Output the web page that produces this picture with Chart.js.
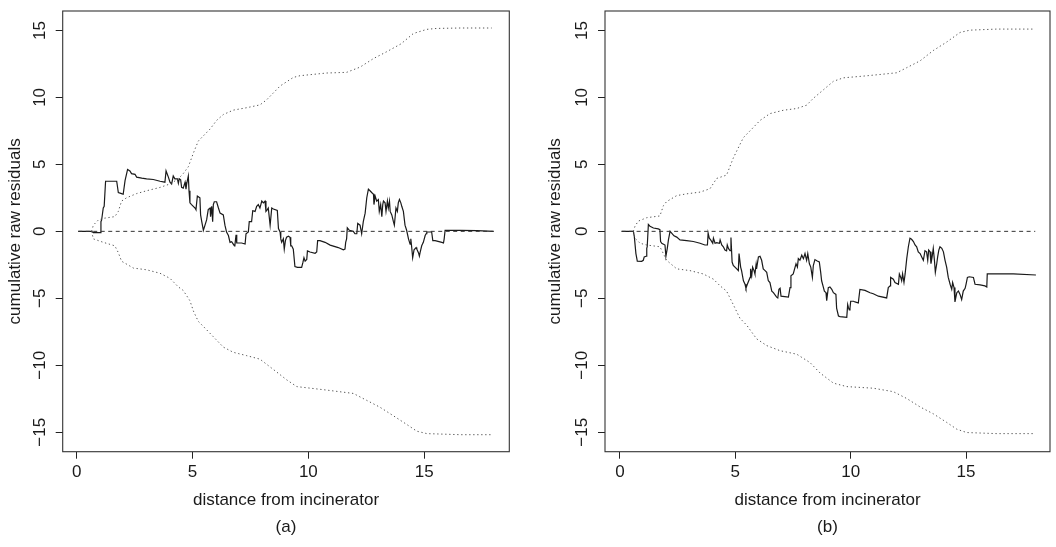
<!DOCTYPE html>
<html>
<head>
<meta charset="utf-8">
<script src="https://cdn.jsdelivr.net/npm/chart.js@4.4.1/dist/chart.umd.min.js"></script>
<style>
  body { margin: 0; background: #fff; }
  canvas { position: absolute; top: 0; }
  #panelA { left: 0; }
  #panelB { left: 528px; }
</style>
</head>
<body>
<canvas id="panelA" width="528" height="547"></canvas>
<canvas id="panelB" width="528" height="547"></canvas>
<script>
const xTicks = [0, 5, 10, 15];
const yTicks = [-15, -10, -5, 0, 5, 10, 15];
const zeroDist = [0.07, 18.0];
const zeroLevel = [0, 0];

// panel (a): observed cumulative residuals
const aDist = [
  0.07,0.65,0.72,1.01,1.05,1.08,1.15,1.19,1.25,1.73,
  1.80,1.94,2.01,2.09,2.20,2.30,2.37,2.52,2.59,2.81,
  3.02,3.31,3.60,3.81,3.86,3.96,4.03,4.10,4.17,4.24,
  4.35,4.39,4.43,4.49,4.53,4.60,4.68,4.72,4.75,4.82,
  4.85,4.89,4.96,5.11,5.15,5.21,5.32,5.35,5.40,5.47,
  5.54,5.61,5.68,5.76,5.78,5.83,5.87,5.90,5.94,6.04,
  6.12,6.19,6.33,6.40,6.47,6.55,6.62,6.69,6.76,6.81,
  6.83,6.88,6.91,7.12,7.27,7.31,7.41,7.45,7.55,7.60,
  7.70,7.77,7.84,7.91,7.99,8.06,8.13,8.17,8.23,8.27,
  8.35,8.42,8.49,8.66,8.71,8.78,8.81,8.85,8.92,8.96,
  9.01,9.06,9.14,9.21,9.24,9.28,9.35,9.42,9.53,9.71,
  9.76,9.81,9.86,9.93,9.96,10.07,10.29,10.36,10.40,10.50,
  10.72,10.94,11.29,11.51,11.58,11.61,11.65,11.68,11.77,11.94,
  12.01,12.09,12.13,12.23,12.30,12.37,12.45,12.52,12.59,12.66,
  12.73,12.81,12.83,12.88,12.95,13.02,13.06,13.12,13.17,13.21,
  13.24,13.31,13.35,13.41,13.45,13.50,13.53,13.60,13.67,13.71,
  13.78,13.84,13.88,13.93,13.99,14.03,14.10,14.17,14.24,14.32,
  14.39,14.42,14.46,14.50,14.56,14.65,14.68,14.75,14.79,14.82,
  14.89,14.96,15.04,15.08,15.11,15.32,15.37,15.47,15.76,15.83,
  15.86,15.90,16.55,17.27,17.99
];
const aResid = [
  0,0,-0.1,-0.1,0.72,0.85,1.74,1.87,3.74,3.74,
  2.9,2.82,2.77,3.79,4.62,4.51,4.31,4.26,4.05,3.97,
  3.92,3.87,3.74,3.67,4.51,4.05,3.67,3.54,4.13,3.92,
  3.92,3.59,3.92,3.85,3.28,3.23,3.67,3.15,3.54,4.13,
  3.03,2.13,2.0,1.74,1.62,2.64,2.51,1.23,0.72,0.08,
  0.46,0.85,1.62,1.74,1.10,1.87,0.72,2.0,2.21,2.21,
  1.74,1.36,1.23,0.46,-0.05,-0.31,-0.82,-0.77,-0.95,-1.08,
  -1.03,-0.26,-0.87,-0.87,-0.95,-0.18,-0.05,0.72,0.72,1.54,
  1.49,1.87,2.0,1.74,2.26,2.13,2.26,1.49,1.62,1.74,
  0.46,1.74,1.67,1.56,0.21,-0.05,-0.56,-0.82,-0.56,-1.33,
  -0.69,-0.44,-0.36,-0.44,-1.08,-1.08,-1.33,-2.62,-2.69,-2.69,
  -2.36,-1.97,-2.23,-2.10,-1.46,-1.54,-1.64,-1.54,-0.69,-0.69,
  -0.82,-1.03,-1.21,-1.38,-1.33,-0.82,-0.56,0.26,0.08,0,
  -0.18,-0.18,0.59,0.46,-0.18,0.72,1.36,2.51,3.15,3.03,
  2.90,2.77,2.0,2.64,2.26,2.38,1.49,2.0,1.10,2.0,
  2.26,2.13,1.49,2.26,1.74,2.26,1.49,1.23,0.72,0.46,
  1.74,1.49,2.13,2.38,2.13,1.87,1.49,0.46,0.08,-0.56,
  -0.95,-0.56,-1.21,-1.97,-1.38,-1.21,-1.33,-1.59,-1.85,-1.59,
  -1.08,-0.82,-0.31,-0.18,-0.05,-0.05,-0.69,-0.69,-0.82,-0.87,
  -0.56,0.08,0.08,0.05,0
];
// panel (a): simulation envelope
const aUpDist = [0.65,0.72,0.94,1.15,1.65,1.80,1.94,2.16,2.59,3.02,3.60,4.03,4.39,4.60,4.82,5.04,5.25,5.47,5.76,6.04,
  6.33,6.76,7.34,7.91,8.20,8.78,9.35,9.64,10.79,11.65,12.23,12.81,13.38,14.0,14.53,15.11,15.54,16.55,17.91];
const aUpper = [0,0.46,0.85,0.97,1.10,1.49,2.26,2.51,2.82,3.03,3.28,3.54,3.92,4.31,4.82,5.85,6.74,7.13,7.64,8.28,
  8.72,9.05,9.23,9.44,9.82,10.85,11.49,11.62,11.82,11.87,12.26,12.90,13.41,14.0,14.77,15.08,15.15,15.18,15.18];
const aLowDist = [0.65,0.72,1.15,1.65,1.80,1.94,2.45,3.02,3.60,4.03,4.39,4.60,4.89,5.04,5.25,5.47,5.90,6.33,6.76,7.34,
  7.91,8.49,9.06,9.50,10.79,11.94,12.52,13.09,13.67,14.24,14.68,15.11,16.55,17.91];
const aLower = [0,-0.56,-0.82,-1.08,-1.59,-2.23,-2.74,-2.87,-3.13,-3.51,-4.15,-4.41,-5.18,-5.95,-6.72,-7.10,-7.87,-8.64,-9.03,-9.28,
  -9.54,-10.31,-11.08,-11.59,-11.85,-12.10,-12.62,-13.13,-13.77,-14.41,-14.92,-15.10,-15.18,-15.18];

// panel (b): observed cumulative residuals
const bDist = [
  0.07,0.58,0.62,0.69,0.75,0.94,1.01,1.05,1.13,1.16,
  1.18,1.23,1.30,1.45,1.66,1.73,1.76,1.81,1.95,1.99,
  2.05,2.10,2.17,2.24,2.34,2.46,2.60,2.89,3.18,3.47,
  3.68,3.79,3.82,3.87,3.93,4.02,4.05,4.12,4.19,4.31,
  4.34,4.41,4.48,4.55,4.62,4.65,4.70,4.77,4.81,4.86,
  4.91,5.06,5.13,5.16,5.20,5.23,5.27,5.35,5.42,5.46,
  5.52,5.64,5.66,5.71,5.75,5.81,5.85,5.90,5.92,6.00,
  6.07,6.14,6.21,6.29,6.36,6.43,6.50,6.58,6.65,6.79,
  6.84,6.89,6.94,6.98,7.30,7.37,7.41,7.51,7.59,7.63,
  7.69,7.73,7.80,7.88,7.95,8.02,8.09,8.14,8.21,8.27,
  8.34,8.38,8.45,8.55,8.64,8.70,8.74,8.82,8.86,8.93,
  8.96,9.03,9.10,9.18,9.25,9.32,9.36,9.39,9.47,9.54,
  9.83,9.87,9.90,9.94,9.97,10.00,10.12,10.19,10.33,10.40,
  10.62,10.84,10.98,11.20,11.56,11.63,11.71,11.73,11.85,11.92,
  12.07,12.11,12.17,12.21,12.25,12.31,12.36,12.43,12.50,12.57,
  12.64,12.72,12.79,12.86,12.93,13.01,13.08,13.15,13.22,13.29,
  13.34,13.38,13.44,13.48,13.53,13.58,13.63,13.67,13.73,13.77,
  13.82,13.87,13.95,14.02,14.09,14.16,14.23,14.31,14.38,14.42,
  14.48,14.52,14.60,14.67,14.74,14.81,14.88,14.96,15.00,15.06,
  15.14,15.32,15.39,15.61,15.82,15.90,15.92,17.05,18.03
];
const bResid = [
  0,0,-0.38,-1.66,-2.22,-2.24,-2.16,-1.91,-1.86,-1.27,
  -1.15,0.51,0.38,0.25,0.18,0.13,-0.76,-0.89,-1.02,-1.86,
  -1.27,-0.64,0,-0.13,-0.33,-0.43,-0.64,-0.69,-0.76,-0.89,
  -1.02,-1.02,-0.13,-0.51,-0.64,-0.89,-0.51,-0.89,-0.84,-0.89,
  -0.64,-1.02,-1.15,-1.40,-1.45,-1.02,-1.27,-1.45,-0.46,-2.29,
  -2.55,-2.80,-2.93,-1.66,-1.66,-2.67,-2.93,-3.69,-3.95,-4.25,
  -3.95,-3.44,-2.80,-3.31,-2.67,-2.93,-3.18,-2.47,-2.80,-1.91,
  -1.86,-2.16,-2.80,-2.93,-3.06,-3.69,-3.82,-4.46,-4.58,-4.91,
  -4.97,-4.33,-4.25,-4.84,-4.91,-4.20,-3.31,-3.18,-2.67,-2.42,
  -2.67,-2.04,-2.16,-1.78,-2.04,-1.66,-2.16,-1.66,-2.42,-2.67,
  -3.44,-2.55,-2.11,-2.22,-2.29,-3.06,-3.69,-4.20,-4.46,-4.58,
  -5.17,-4.20,-4.15,-4.33,-4.58,-4.66,-4.71,-5.73,-6.32,-6.37,
  -6.42,-5.47,-5.68,-5.86,-5.73,-5.22,-5.22,-5.27,-5.35,-4.33,
  -4.41,-4.58,-4.66,-4.84,-4.97,-4.20,-4.07,-3.44,-3.57,-3.82,
  -3.95,-3.18,-3.44,-3.69,-3.18,-3.82,-3.18,-2.04,-1.15,-0.51,
  -0.59,-0.76,-1.02,-1.15,-1.53,-1.66,-1.91,-2.16,-1.45,-1.53,
  -2.16,-1.40,-1.53,-2.42,-1.91,-1.27,-2.16,-3.06,-2.42,-1.91,
  -1.40,-1.15,-1.27,-1.53,-2.16,-2.67,-3.44,-3.95,-4.33,-3.82,
  -4.20,-5.27,-4.58,-4.46,-4.71,-5.09,-4.46,-4.25,-3.95,-3.44,
  -3.39,-3.44,-3.95,-4.00,-4.07,-4.15,-3.18,-3.18,-3.26
];
// panel (b): simulation envelope
const bUpDist = [0.58,0.65,0.79,1.16,1.73,1.88,2.02,2.46,2.89,3.47,3.90,4.19,4.62,4.91,5.20,5.35,5.64,6.07,6.50,7.08,
  7.66,8.09,8.38,8.82,9.25,9.68,10.55,11.27,12.0,12.43,13.01,13.58,14.16,14.74,15.17,16.33,17.99];
const bUpper = [0,0.38,0.76,1.02,1.15,1.91,2.22,2.67,2.80,2.93,3.18,3.95,4.20,5.47,6.49,7.00,7.51,8.28,8.79,9.04,
  9.17,9.42,9.93,10.57,11.20,11.46,11.59,11.71,11.84,12.22,12.73,13.50,14.13,14.85,15.02,15.10,15.10];
const bLowDist = [0.58,0.65,0.87,1.16,1.73,1.88,2.02,2.46,3.03,3.61,4.05,4.34,4.62,4.91,5.20,5.49,5.92,6.36,6.94,7.66,
  8.24,8.67,9.25,9.83,10.98,11.85,12.43,13.01,13.58,14.16,14.60,15.03,16.33,17.99];
const bLower = [0,-0.51,-0.89,-1.02,-1.15,-1.66,-2.16,-2.80,-2.93,-3.18,-3.57,-4.07,-4.46,-5.47,-6.49,-7.00,-8.02,-8.53,-8.91,-9.17,
  -9.80,-10.57,-11.33,-11.59,-11.71,-11.97,-12.48,-13.11,-13.62,-14.26,-14.77,-15.02,-15.10,-15.10];

Chart.defaults.font.family = '"Liberation Sans", Arial, Helvetica, sans-serif';
Chart.defaults.font.size = 17;
Chart.defaults.color = '#1a1a1a';

const pts = (xs, ys) => xs.map((x, i) => ({ x: x, y: ys[i] }));
const fmt = v => String(v).replace('-', '\u2212');

const boxPlugin = {
  id: 'box',
  afterDatasetsDraw(chart) {
    const a = chart.chartArea;
    const c = chart.ctx;
    c.save();
    c.strokeStyle = '#333';
    c.lineWidth = 1.1;
    c.strokeRect(a.left, a.top, a.right - a.left, a.bottom - a.top);
    c.restore();
  }
};

function makePanel(id, p) {
  const line = (data, color, dash, width) => ({
    data: data, showLine: true, pointRadius: 0, borderColor: color,
    borderWidth: width, borderDash: dash, tension: 0, fill: false
  });
  new Chart(document.getElementById(id), {
    type: 'scatter',
    data: {
      datasets: [
        line(pts(zeroDist, zeroLevel), '#333', [4, 3.5], 1),
        line(pts(p.upDist, p.upper), '#555', [1.3, 2.7], 1),
        line(pts(p.lowDist, p.lower), '#555', [1.3, 2.7], 1),
        line(pts(p.dist, p.resid), '#1a1a1a', [], 1.2)
      ]
    },
    options: {
      responsive: false,
      animation: false,
      layout: { padding: { left: p.padLeft, right: p.padRight, top: p.padTop, bottom: 0 } },
      plugins: { legend: { display: false }, tooltip: { enabled: false } },
      scales: {
        x: {
          type: 'linear', min: p.xMin, max: p.xMax,
          afterBuildTicks: s => { s.ticks = xTicks.map(v => ({ value: v })); },
          afterFit: s => { s.height = 95.3; },
          grid: { drawOnChartArea: false, drawTicks: true, tickLength: 7, color: '#222' },
          border: { display: false },
          ticks: { padding: 3.8, maxRotation: 0, callback: fmt },
          title: {
            display: true, text: ['distance from incinerator', p.tag],
            font: { size: 17, lineHeight: '27px' }, padding: { top: 0, bottom: 6.5 }
          }
        },
        y: {
          type: 'linear', min: -16.45, max: 16.45,
          afterBuildTicks: s => { s.ticks = yTicks.map(v => ({ value: v })); },
          afterFit: s => { s.width = p.yWidth; },
          grid: { drawOnChartArea: false, drawTicks: true, tickLength: 7, color: '#222' },
          border: { display: false },
          ticks: { padding: 0.8, minRotation: 90, maxRotation: 90, crossAlign: 'center', callback: fmt },
          title: {
            display: true, text: 'cumulative raw residuals',
            font: { size: 17 }, padding: { top: 4.8, bottom: 0 }
          }
        }
      }
    },
    plugins: [boxPlugin]
  });
}

makePanel('panelA', {
  dist: aDist, resid: aResid, upDist: aUpDist, upper: aUpper, lowDist: aLowDist, lower: aLower,
  xMin: -0.6, xMax: 18.67, padLeft: 0, yWidth: 62.7, padRight: 18.7, padTop: 6, tag: '(a)'
});
makePanel('panelB', {
  dist: bDist, resid: bResid, upDist: bUpDist, upper: bUpper, lowDist: bLowDist, lower: bLower,
  xMin: -0.65, xMax: 18.64, padLeft: 12, yWidth: 65, padRight: 6, padTop: 5, tag: '(b)'
});
</script>
</body>
</html>
